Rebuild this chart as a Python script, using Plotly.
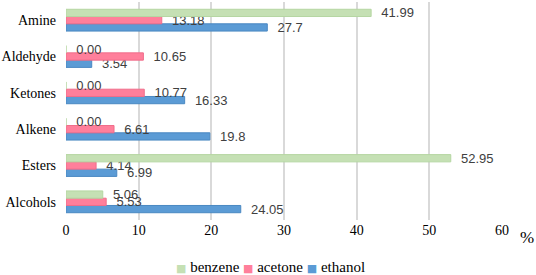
import plotly.graph_objects as go

categories = ["Alcohols", "Esters", "Alkene", "Ketones", "Aldehyde", "Amine"]
benzene = [5.06, 52.95, 0.00, 0.00, 0.00, 41.99]
acetone = [5.53, 4.14, 6.61, 10.77, 10.65, 13.18]
ethanol = [24.05, 6.99, 19.8, 16.33, 3.54, 27.7]
benzene_labels = ["5.06", "52.95", "0.00", "0.00", "0.00", "41.99"]
acetone_labels = ["5.53", "4.14", "6.61", "10.77", "10.65", "13.18"]
ethanol_labels = ["24.05", "6.99", "19.8", "16.33", "3.54", "27.7"]
x_ticks = [0, 10, 20, 30, 40, 50, 60]

SERIF = "'Liberation Serif', 'Times New Roman', serif"

series = [
    ("ethanol", ethanol, ethanol_labels, "#5b9bd5", "#4a88c2"),
    ("acetone", acetone, acetone_labels, "#ff7f9b", "#f06d8a"),
    ("benzene", benzene, benzene_labels, "#c5e0b4", "#b5d6a2"),
]

fig = go.Figure()
for name, vals, labels, col, line in series:
    fig.add_trace(go.Bar(
        y=categories, x=vals, name=name, orientation="h",
        marker=dict(color=col, line=dict(color=line, width=1)),
        text=labels, texttemplate="  %{text}", textposition="outside",
        constraintext="none", cliponaxis=False, showlegend=False,
        textfont=dict(family="Liberation Sans", size=13, color="#404040"),
    ))

fig.update_layout(
    width=536, height=275,
    margin=dict(l=66, r=34, t=2, b=55, autoexpand=False),
    barmode="group", bargap=0.4, bargroupgap=0,
    plot_bgcolor="white", paper_bgcolor="white",
    font=dict(family=SERIF, size=14, color="black"),
    showlegend=False,
)
fig.update_xaxes(range=[0, 60], tickvals=x_ticks, showgrid=True, gridcolor="#d9d9d9",
                 gridwidth=1.5, zeroline=False, showline=False, ticks="",
                 tickfont=dict(family=SERIF, size=14, color="black"))
fig.update_yaxes(categoryorder="array", categoryarray=categories, showgrid=False,
                 zeroline=False, showline=False, ticks="", ticklabelstandoff=9,
                 tickfont=dict(family=SERIF, size=14, color="black"))
fig.add_annotation(text="%", xref="paper", yref="paper", x=1.0, y=0, xshift=25,
                   yshift=-17, showarrow=False, xanchor="center", yanchor="middle",
                   font=dict(family=SERIF, size=17, color="black"))

# legend (benzene, acetone, ethanol order) as a single text line
legend_parts = []
for name, vals, labels, col, line in reversed(series):
    legend_parts.append(
        f"<span style='color:{col};font-size:11px;font-family:DejaVu Sans'>■</span> {name}"
    )
fig.add_annotation(text=" ".join(legend_parts), xref="paper", yref="paper",
                   x=0.468, y=0, yshift=-47, showarrow=False, xanchor="center",
                   yanchor="middle", font=dict(family=SERIF, size=15, color="black"))

fig.write_html("out.html", config={"displayModeBar": False},
               post_script="document.body.style.margin='0';document.body.style.overflow='hidden';")
